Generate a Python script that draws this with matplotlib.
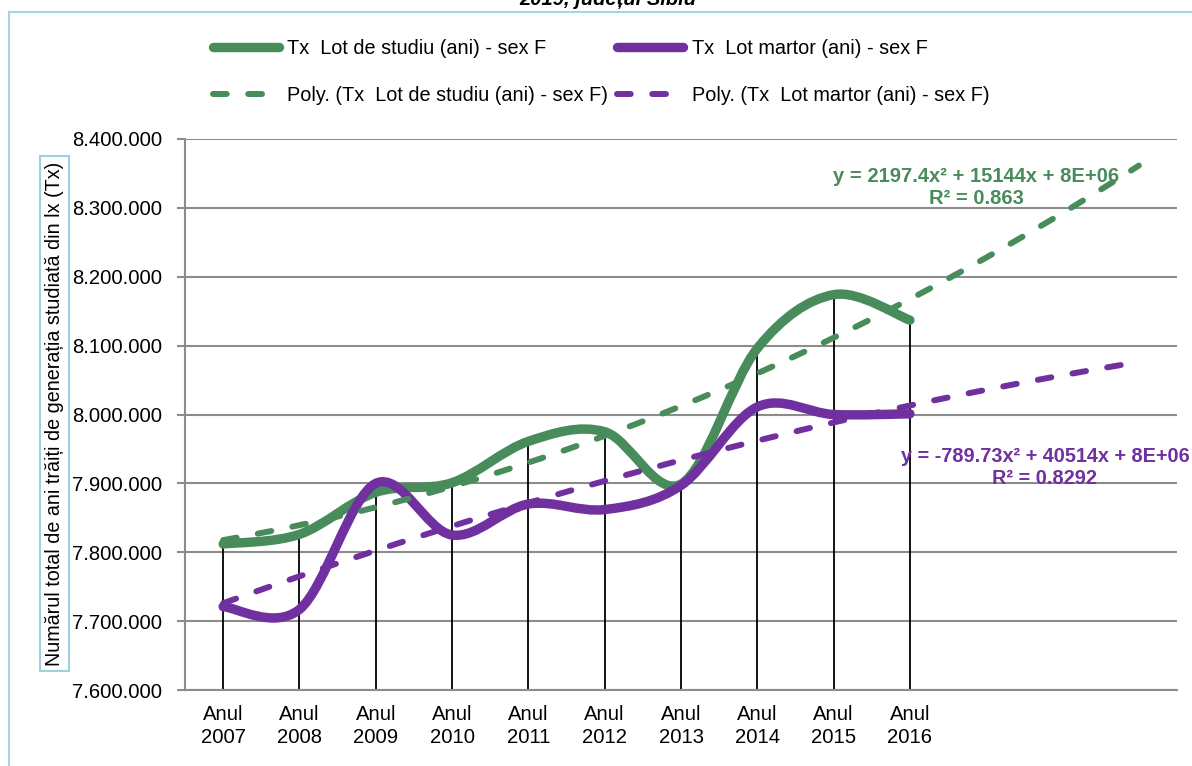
import numpy as np
import matplotlib.pyplot as plt
from matplotlib.path import Path
from matplotlib.patches import PathPatch
from matplotlib.lines import Line2D
from matplotlib.ticker import FuncFormatter

plt.rcParams['font.family'] = ['Liberation Sans', 'DejaVu Sans']

# date
ani = ['2007', '2008', '2009', '2010', '2011', '2012', '2013', '2014', '2015', '2016']
lot_studiu = [7812000, 7826000, 7887000, 7901000, 7961000, 7975000, 7899000, 8096000, 8174000, 8137000]
lot_martor = [7721000, 7717000, 7900000, 7825000, 7870000, 7862000, 7897000, 8011000, 8000000, 8001000]
eticheta_studiu = 'Tx  Lot de studiu (ani) - sex F'
eticheta_martor = 'Tx  Lot martor (ani) - sex F'
ec_studiu = 'y = 2197.4x² + 15144x + 8E+06\nR² = 0.863'
ec_martor = 'y = -789.73x² + 40514x + 8E+06\nR² = 0.8292'
perioade_prognoza = 3

VERDE = '#488C5C'
MOV = '#7030A0'
W, H = 1192, 766


def cale_netezita(xs, ys):
    # curba neteda tip Excel (Bezier cu tangente Catmull-Rom)
    p = np.column_stack([xs, ys]).astype(float)
    n = len(p)
    verts, codes = [p[0]], [Path.MOVETO]
    for i in range(n - 1):
        p0 = p[max(i - 1, 0)]
        p1, p2 = p[i], p[i + 1]
        p3 = p[min(i + 2, n - 1)]
        verts += [p1 + (p2 - p0) / 6, p2 - (p3 - p1) / 6, p2]
        codes += [Path.CURVE4] * 3
    return Path(verts, codes)


fig = plt.figure(figsize=(W / 100, H / 100), dpi=100)
ax = fig.add_axes([185 / W, 1 - 690 / H, 992 / W, 551 / H])

x = np.arange(len(ani))
ax.set_xlim(-0.5, len(ani) + perioade_prognoza - 0.5)
ax.set_ylim(7600000, 8400000)
ax.set_yticks(np.arange(7600000, 8400001, 100000))
ax.yaxis.set_major_formatter(FuncFormatter(lambda v, p: f'{int(v):,}'.replace(',', '.')))
ax.grid(axis='y', color='#8C8C8C', lw=1.5, zorder=0)
ax.set_axisbelow(True)

for s in ['top', 'right']:
    ax.spines[s].set_visible(False)
for s in ['left', 'bottom']:
    ax.spines[s].set_color('#8C8C8C')
    ax.spines[s].set_linewidth(1.5)

# linii verticale (drop lines)
ax.vlines(x, 7600000, np.maximum(lot_studiu, lot_martor), color='black', lw=1.3, zorder=2)

# serii netezite
for ys, c in [(lot_studiu, VERDE), (lot_martor, MOV)]:
    ax.add_patch(PathPatch(cale_netezita(x, ys), fill=False, edgecolor=c, lw=6.8,
                           capstyle='round', joinstyle='round', zorder=3))

# linii de tendinta polinomiale (grad 2), prognoza inainte
xt = np.linspace(0, len(ani) - 1 + perioade_prognoza, 200)
for ys, c in [(lot_studiu, VERDE), (lot_martor, MOV)]:
    coef = np.polyfit(x + 1, ys, 2)
    ax.plot(xt, np.polyval(coef, xt + 1), color=c, lw=4.3, dashes=(2.3, 3.6),
            dash_capstyle='round', zorder=4)

ax.set_xticks(x)
ax.set_xticklabels([f'Anul\n{a}' for a in ani], fontsize=14.6, linespacing=1.22)
ax.tick_params(axis='x', length=0, pad=11)
ax.tick_params(axis='y', length=6, width=1.5, color='#8C8C8C', pad=10.5, labelsize=14.6)

fig.text(976 / W, 1 - 187 / H, ec_studiu, ha='center', va='center', fontsize=14.5,
         fontweight='bold', color=VERDE, linespacing=1.2)
fig.text(1045 / W, 1 - 467 / H, ec_martor, ha='center', va='center', fontsize=14.3,
         fontweight='bold', color=MOV, linespacing=1.2)

fig.text(54.5 / W, 1 - 413.5 / H, 'Numărul total de ani trăiți de generația studiată din lx (Tx)',
         rotation=90, ha='center', va='center', fontsize=14.25,
         bbox=dict(boxstyle='square,pad=0.25', fc='white', ec='#9ED0E0', lw=1.5))

handles = [
    Line2D([], [], color=VERDE, lw=6.8, solid_capstyle='round'),
    Line2D([], [], color=VERDE, lw=4.3, dashes=(2.3, 3.6), dash_capstyle='round'),
    Line2D([], [], color=MOV, lw=6.8, solid_capstyle='round'),
    Line2D([], [], color=MOV, lw=4.3, dashes=(2.3, 3.6), dash_capstyle='round'),
]
labels = [eticheta_studiu, 'Poly. (' + eticheta_studiu + ')',
          eticheta_martor, 'Poly. (' + eticheta_martor + ')']
fig.legend(handles, labels, loc='upper left', bbox_to_anchor=(213 / W, 1 - 39 / H),
           ncol=2, frameon=False, fontsize=14.3, handlelength=3.3, handletextpad=0.45,
           columnspacing=0.45, labelspacing=1.42, borderpad=0, borderaxespad=0)

fig.text(608 / W, 1 - 5 / H, '2019, județul Sibiu', ha='center', va='baseline',
         fontsize=14.5, fontweight='bold', fontstyle='italic')

# chenarul graficului
fig.add_artist(Line2D([8.5 / W, 8.5 / W], [0, 1 - 11.5 / H], transform=fig.transFigure,
                      color='#A6D5E4', lw=1.5))
fig.add_artist(Line2D([8.5 / W, 1], [1 - 11.5 / H, 1 - 11.5 / H], transform=fig.transFigure,
                      color='#A6D5E4', lw=1.5))

fig.savefig('out.png', dpi=100)
